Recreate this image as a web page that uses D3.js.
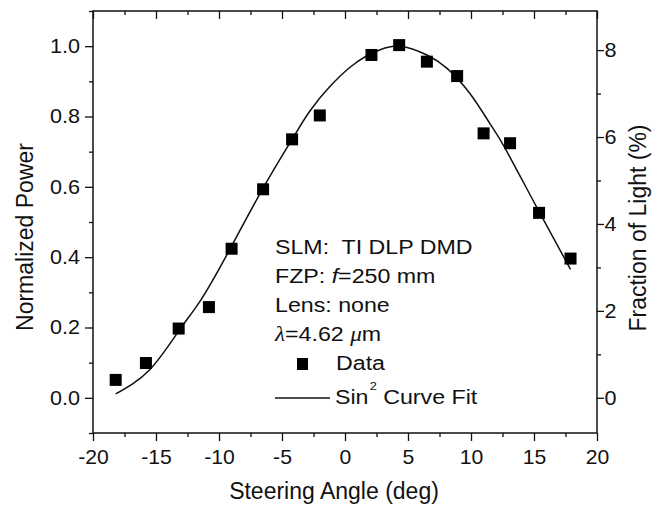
<!DOCTYPE html>
<html>
<head>
<meta charset="utf-8">
<script src="https://cdn.jsdelivr.net/npm/d3@7"></script>
<style>
  html, body { margin: 0; padding: 0; background: #fff; }
  text { font-family: "Liberation Sans", Arial, sans-serif; fill: #111; }
</style>
</head>
<body>
<div id="body"></div>
<script>
// measured points: steering angle (deg) vs normalized power
var angle = [-18.2, -15.8, -13.2, -10.8, -9.0, -6.5, -4.2, -2.0, 2.1, 4.3, 6.5, 8.9, 11.0, 13.1, 15.4, 17.9];
var power = [0.051, 0.099, 0.197, 0.258, 0.424, 0.593, 0.735, 0.803, 0.975, 1.003, 0.956, 0.915, 0.752, 0.724, 0.526, 0.396];

// sin^2 fit
var fitAngle = [-18.2, -15.5, -13.2, -11.5, -9.4, -6.6, -4.2, -2.8, -1.2, 0.4, 1.7, 2.8, 4.4, 6.5, 8.1, 9.9, 11.5, 12.7, 15.2, 17.9];
var fitPower = [0.011, 0.08, 0.19, 0.275, 0.405, 0.59, 0.735, 0.815, 0.885, 0.94, 0.972, 0.99, 1.0, 0.975, 0.937, 0.866, 0.78, 0.71, 0.543, 0.365];

// axis ticks
var xTicks = [-20, -15, -10, -5, 0, 5, 10, 15, 20];
var xMinorTicks = [-17.5, -12.5, -7.5, -2.5, 2.5, 7.5, 12.5, 17.5];
var powerTicks = [0, 0.2, 0.4, 0.6, 0.8, 1.0];
var powerMinorTicks = [-0.1, 0.1, 0.3, 0.5, 0.7, 0.9, 1.1];
var lightTicks = [0, 2, 4, 6, 8];
var lightMinorTicks = [1, 3, 5, 7];

var W = 660, H = 507;
var margin = {left: 93, top: 11, right: 63, bottom: 74};

var svg = d3.select('#body')
    .append('svg')
    .attr('width', W)
    .attr('height', H);

var x = d3.scaleLinear().domain([-20, 20]).range([margin.left, W - margin.right]);
var yL = d3.scaleLinear().domain([-0.1, 1.1]).range([H - margin.bottom, margin.top]);
var yR = d3.scaleLinear().domain([-0.81, 8.9]).range([H - margin.bottom, margin.top]);

var x0 = margin.left, x1 = W - margin.right, y0 = H - margin.bottom, y1 = margin.top;

// plain hyphen minus, like the original
var intFmt = function (d) { return String(d); };

// stretch tick labels a bit horizontally, like the original
function stretchTicks (g, sx) {
  g.selectAll('.tick text')
      .attr('transform', 'scale(' + sx + ',1)')
      .style('font-size', '20px')
      .style('fill', '#111');
  g.select('.domain').remove();
  g.selectAll('.tick line').attr('stroke', '#111').attr('stroke-width', 1.3);
}

// bottom axis
svg.append('g')
    .attr('transform', 'translate(0,' + y0 + ')')
    .call(d3.axisBottom(x).tickValues(xTicks).tickSize(8).tickPadding(9).tickFormat(intFmt))
    .call(stretchTicks, 1.06);
svg.append('g')
    .attr('transform', 'translate(0,' + y0 + ')')
    .call(d3.axisBottom(x).tickValues(xMinorTicks).tickSize(4).tickFormat(''))
    .call(stretchTicks, 1);

// top axis, ticks pointing in
svg.append('g')
    .attr('transform', 'translate(0,' + y1 + ')')
    .call(d3.axisBottom(x).tickValues(xTicks).tickSize(8).tickFormat(''))
    .call(stretchTicks, 1);
svg.append('g')
    .attr('transform', 'translate(0,' + y1 + ')')
    .call(d3.axisBottom(x).tickValues(xMinorTicks).tickSize(4).tickFormat(''))
    .call(stretchTicks, 1);

// left axis
svg.append('g')
    .attr('transform', 'translate(' + x0 + ',0)')
    .call(d3.axisLeft(yL).tickValues(powerTicks).tickSize(8).tickPadding(4).tickFormat(d3.format('.1f')))
    .call(stretchTicks, 1.08);
svg.append('g')
    .attr('transform', 'translate(' + x0 + ',0)')
    .call(d3.axisLeft(yL).tickValues(powerMinorTicks).tickSize(4).tickFormat(''))
    .call(stretchTicks, 1);

// right axis
svg.append('g')
    .attr('transform', 'translate(' + x1 + ',0)')
    .call(d3.axisRight(yR).tickValues(lightTicks).tickSize(7).tickPadding(0).tickFormat(intFmt))
    .call(stretchTicks, 1.08);
svg.append('g')
    .attr('transform', 'translate(' + x1 + ',0)')
    .call(d3.axisRight(yR).tickValues(lightMinorTicks).tickSize(4).tickFormat(''))
    .call(stretchTicks, 1);

// frame
svg.append('rect')
    .attr('x', x0).attr('y', y1)
    .attr('width', x1 - x0).attr('height', y0 - y1)
    .attr('fill', 'none')
    .attr('stroke', '#111')
    .attr('stroke-width', 1.5);

// axis titles
svg.append('text')
    .attr('x', 334).attr('y', 499)
    .attr('text-anchor', 'middle')
    .style('font-size', '23px')
    .text('Steering Angle (deg)');

svg.append('text')
    .attr('transform', 'translate(33,237) rotate(-90)')
    .attr('text-anchor', 'middle')
    .style('font-size', '23px')
    .text('Normalized Power');

svg.append('text')
    .attr('transform', 'translate(646,228) rotate(-90)')
    .attr('text-anchor', 'middle')
    .style('font-size', '23px')
    .text('Fraction of Light (%)');

// fit curve
var fit = fitAngle.map(function (a, i) { return [a, fitPower[i]]; });
svg.append('path')
    .datum(fit)
    .attr('fill', 'none')
    .attr('stroke', '#111')
    .attr('stroke-width', 1.5)
    .attr('d', d3.line()
        .x(function (d) { return x(d[0]); })
        .y(function (d) { return yL(d[1]); })
        .curve(d3.curveNatural));

// data squares
var sq = 12;
svg.append('g').selectAll('rect')
    .data(angle)
    .enter().append('rect')
    .attr('x', function (d) { return x(d) - sq / 2; })
    .attr('y', function (d, i) { return yL(power[i]) - sq / 2; })
    .attr('width', sq)
    .attr('height', sq)
    .attr('fill', '#000');

// legend / annotation
var sx = 1.16;
function legendText (px, py) {
  return svg.append('text')
      .attr('transform', 'translate(' + px + ',' + py + ') scale(' + sx + ',1)')
      .style('font-size', '20px')
      .style('white-space', 'pre');
}

legendText(275, 254).text('SLM:  TI DLP DMD');

var t2 = legendText(275, 283);
t2.append('tspan').text('FZP: ');
t2.append('tspan').style('font-style', 'italic').text('f');
t2.append('tspan').text('=250 mm');

legendText(275, 312).text('Lens: none');

var t4 = legendText(275, 341);
t4.append('tspan').style('font-style', 'italic').style('font-family', '"Liberation Serif", serif').text('λ');
t4.append('tspan').text('=4.62 ');
t4.append('tspan').style('font-style', 'italic').style('font-family', '"Liberation Serif", serif').text('μ');
t4.append('tspan').text('m');

svg.append('rect')
    .attr('x', 297).attr('y', 358)
    .attr('width', 11).attr('height', 12)
    .attr('fill', '#000');
legendText(336, 370).text('Data');

svg.append('line')
    .attr('x1', 275).attr('x2', 330)
    .attr('y1', 398).attr('y2', 398)
    .attr('stroke', '#111')
    .attr('stroke-width', 1.5);
var t6 = legendText(335, 404);
t6.append('tspan').text('Sin');
t6.append('tspan').attr('dx', 1).attr('dy', -14).style('font-size', '11px').text('2');
t6.append('tspan').attr('dy', 14).text(' Curve Fit');
</script>
</body>
</html>
